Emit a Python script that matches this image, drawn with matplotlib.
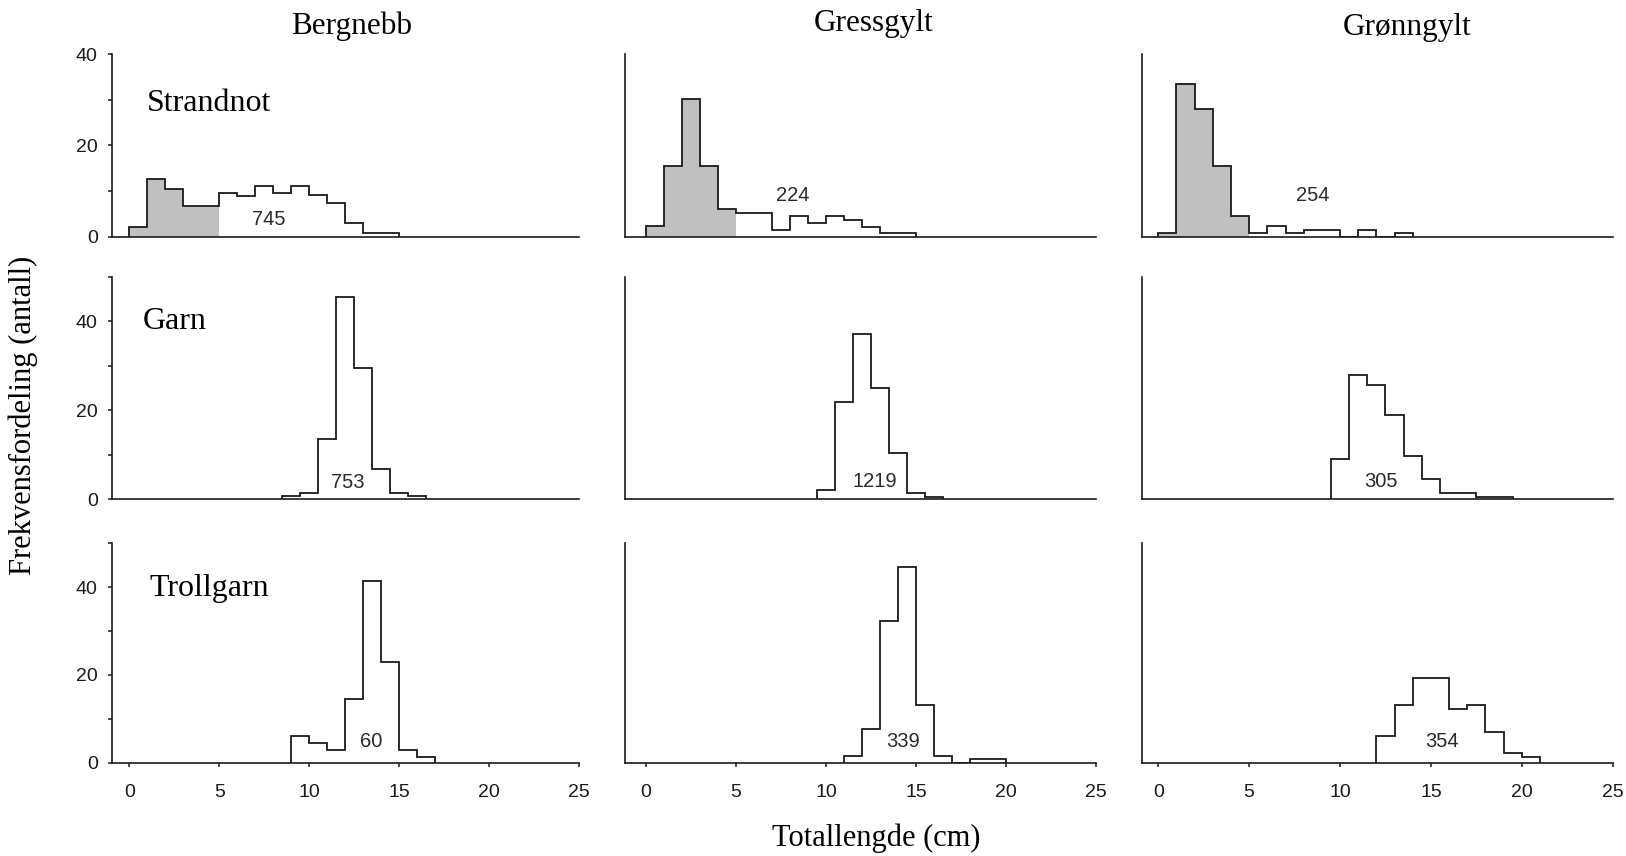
import matplotlib
matplotlib.use("Agg")
import matplotlib.pyplot as plt
import numpy as np
from matplotlib.ticker import MultipleLocator, FixedLocator

# ---------------- data (frequency per 1-cm length class) ----------------
species = ["Bergnebb", "Gressgylt", "Grønngylt"]
gears = ["Strandnot", "Garn", "Trollgarn"]

# Strandnot
bergnebb_strandnot = [2.2, 12.6, 10.4, 6.7, 6.7, 9.65, 8.9, 11.1, 9.65, 11.1, 9.1, 7.3, 2.9, 0.9, 0.9]
gressgylt_strandnot = [2.3, 15.5, 30.3, 15.5, 6.0, 5.3, 5.3, 1.45, 4.5, 2.9, 4.5, 3.65, 2.2, 0.9, 0.9]
gronngylt_strandnot = [0.9, 33.4, 28.1, 15.5, 4.5, 0.9, 2.3, 0.9, 1.5, 1.5, 0, 1.5, 0, 0.9]
# Garn
bergnebb_garn = [0.75, 1.5, 13.5, 45.5, 29.4, 6.7, 1.5, 0.75]
gressgylt_garn = [2.1, 21.9, 37.1, 25.1, 10.5, 1.5, 0.6]
gronngylt_garn = [9.0, 27.9, 25.7, 18.9, 9.7, 4.5, 1.5, 1.5, 0.6, 0.6]
# Trollgarn
bergnebb_trollgarn = [6.15, 4.6, 2.9, 14.5, 41.5, 23.0, 2.9, 1.4]
gressgylt_trollgarn = [1.5, 7.6, 32.4, 44.5, 13.1, 1.5, 0, 0.76, 0.76]
gronngylt_trollgarn = [6.1, 13.1, 19.3, 19.3, 12.2, 13.1, 6.9, 2.3, 1.4]

# lower edge (cm) of the first length class in each panel
start_strandnot = [0, 0, 0]
start_garn = [8.5, 9.5, 9.5]
start_trollgarn = [9, 11, 12]

# number of fish measured
n_strandnot = ["745", "224", "254"]
n_garn = ["753", "1219", "305"]
n_trollgarn = ["60", "339", "354"]

juvenile_limit = 5  # cm, shaded grey in the beach-seine samples

values = [
    [bergnebb_strandnot, gressgylt_strandnot, gronngylt_strandnot],
    [bergnebb_garn, gressgylt_garn, gronngylt_garn],
    [bergnebb_trollgarn, gressgylt_trollgarn, gronngylt_trollgarn],
]
starts = [start_strandnot, start_garn, start_trollgarn]
counts = [n_strandnot, n_garn, n_trollgarn]

# ---------------- layout / style ----------------
SERIF = ["Liberation Serif", "DejaVu Serif"]
SANS = ["Liberation Sans", "DejaVu Sans"]
ink = "#1a1a1a"

col_left = [0.0687, 0.3844, 0.7023]
col_w = [0.2874, 0.2895, 0.2895]
row_bottom = [0.7235, 0.4167, 0.109]
row_h = [0.2131, 0.26, 0.2563]
row_ymax = [40, 50, 50]
col_xmin = [-0.98, -1.17, -0.9]

count_pos = [
    [(7.76, 3.7), (8.15, 9.0), (8.52, 9.0)],
    [(12.17, 3.7), (12.69, 3.95), (12.25, 3.95)],
    [(13.42, 4.8), (14.3, 4.8), (15.59, 4.8)],
]
gear_pos = [(0.95, 29.3), (0.72, 39.9), (1.1, 39.75)]

fig = plt.figure(figsize=(16.26, 8.56), dpi=100)

for r in range(3):
    for c in range(3):
        ax = fig.add_axes([col_left[c], row_bottom[r], col_w[c], row_h[r]])
        vals = np.asarray(values[r][c], dtype=float)
        edges = starts[r][c] + np.arange(len(vals) + 1)

        if r == 0:
            m = edges[1:] <= juvenile_limit
            k = int(m.sum())
            ax.stairs(vals[:k], edges[:k + 1], fill=True, color="#c0c0c0",
                      linewidth=0, baseline=0)
        ax.stairs(vals, edges, baseline=0, color=ink, linewidth=1.3)

        ax.set_xlim(col_xmin[c], 25)
        ax.set_ylim(0, row_ymax[r])

        for s in ["top", "right"]:
            ax.spines[s].set_visible(False)
        for s in ["left", "bottom"]:
            ax.spines[s].set_linewidth(1.2)
            ax.spines[s].set_color(ink)

        # y axis: only the left column carries ticks
        if c == 0:
            ax.yaxis.set_major_locator(FixedLocator([0, 20, 40]))
            ax.yaxis.set_minor_locator(MultipleLocator(10))
            ax.tick_params(axis="y", which="both", length=3, width=1.1,
                           color=ink, direction="out", pad=7)
            for lab in ax.get_yticklabels():
                lab.set_fontfamily(SANS)
                lab.set_fontsize(14)
                lab.set_color(ink)
        else:
            ax.set_yticks([])

        # x axis: only the bottom row carries ticks
        if r == 2:
            ax.xaxis.set_major_locator(FixedLocator([0, 5, 10, 15, 20, 25]))
            ax.tick_params(axis="x", length=3, width=1.1, color=ink,
                           direction="out", pad=12)
            for lab in ax.get_xticklabels():
                lab.set_fontfamily(SANS)
                lab.set_fontsize(14)
                lab.set_color(ink)
        else:
            ax.set_xticks([])

        cx, cy = count_pos[r][c]
        ax.text(cx, cy, counts[r][c], ha="center", va="center",
                family=SANS, fontsize=14.5, color="#2a2a2a")

        if c == 0:
            gx, gy = gear_pos[r]
            ax.text(gx, gy, gears[r], ha="left", va="center",
                    family=SERIF, fontsize=23, color="black")

# column titles
title_xy = [(0.2162, 0.9696), (0.5375, 0.9731), (0.8653, 0.9673)]
for name, (tx, ty) in zip(species, title_xy):
    fig.text(tx, ty, name, ha="center", va="center", family=SERIF,
             fontsize=22.5, color="black")

fig.text(0.01415, 0.5152, "Frekvensfordeling (antall)", rotation=90,
         ha="center", va="center", family=SERIF, fontsize=22, color="black")
fig.text(0.5387, 0.021, "Totallengde (cm)", ha="center", va="center",
         family=SERIF, fontsize=22, color="black")

fig.savefig("out.png", dpi=100)
